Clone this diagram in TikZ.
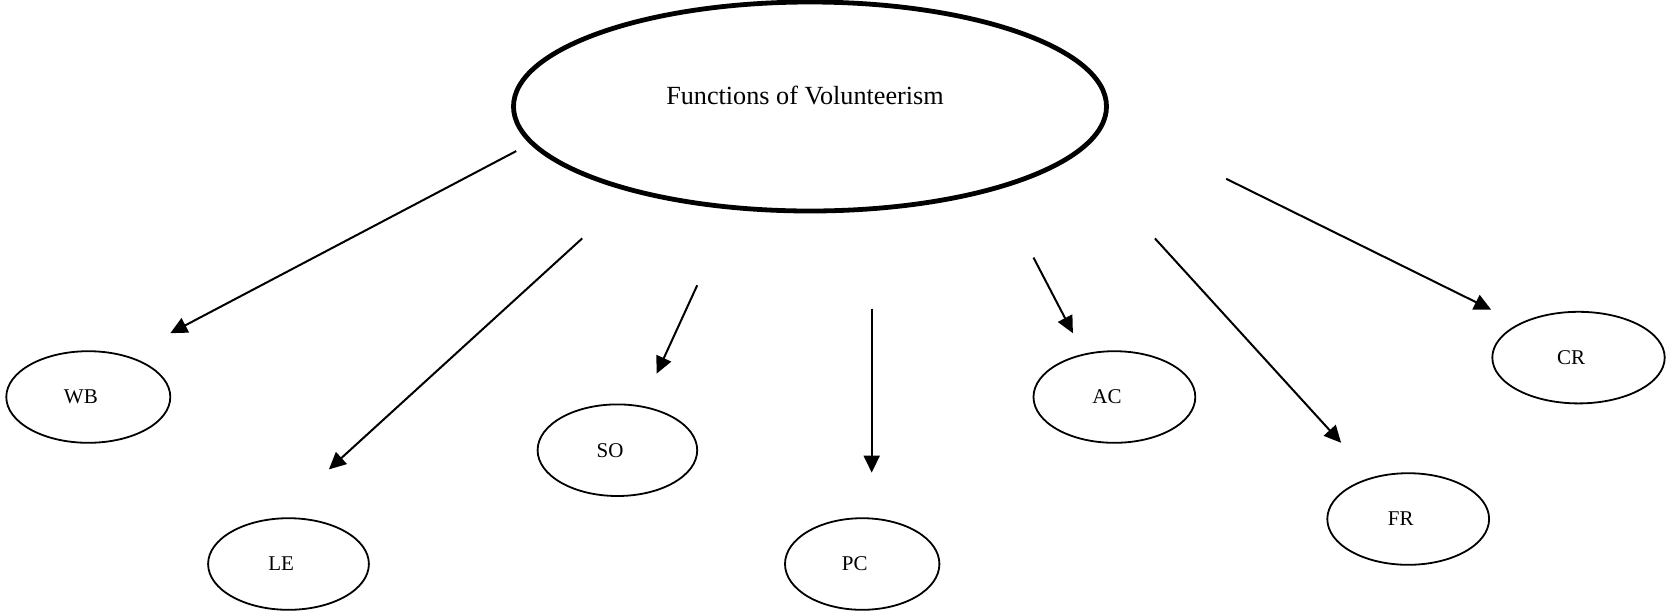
\documentclass[tikz,border=0pt]{standalone}
\usepackage{fontspec}
\setmainfont{Liberation Serif}
\usetikzlibrary{shapes.geometric,arrows.meta}

\begin{document}
\begin{tikzpicture}[x=0.5pt, y=-0.5pt,
  bigell/.style={ellipse, draw, line width=2.4pt, inner sep=0pt, minimum width=296.5pt, minimum height=104.5pt},
  fnell/.style={ellipse, draw, line width=0.9pt, inner sep=0pt, minimum height=45.8pt},
  fnlbl/.style={xshift=-3.7pt, font=\fontsize{10.5}{12}\selectfont},
  arr/.style={line width=1pt, -{Triangle[length=8.5pt,width=8pt]}}]
\useasboundingbox (0,0) rectangle (1669,612);

% centre
\node[bigell] (fv) at (810,106.5) {};
\node[font=\fontsize{13.1}{15}\selectfont] (fvtext) at (805,95) {Functions of Volunteerism};

% functions
\node[fnell, minimum width=82pt, label={[fnlbl]center:WB}] (wb) at (88.3,397) {};
\node[fnell, minimum width=80.4pt, label={[fnlbl]center:LE}] (le) at (288.5,564) {};
\node[fnell, minimum width=79.8pt, label={[fnlbl]center:SO}] (so) at (617.4,450.2) {};
\node[fnell, minimum width=77.2pt, label={[fnlbl]center:PC}] (pc) at (862.2,564) {};
\node[fnell, minimum width=80.9pt, label={[fnlbl]center:AC}] (ac) at (1114.4,397) {};
\node[fnell, minimum width=80.9pt, label={[fnlbl]center:FR}] (fr) at (1408.2,519) {};
\node[fnell, minimum width=86.2pt, label={[fnlbl]center:CR}] (cr) at (1578.5,357.6) {};

% arrow ends
\coordinate (wbs) at (516.2,151.1);   \coordinate (wbe) at (170.3,333.2);
\coordinate (les) at (582.2,238.4);   \coordinate (lee) at (328.9,469.4);
\coordinate (sos) at (697.2,285.3);   \coordinate (soe) at (656.7,373.6);
\coordinate (pcs) at (871.7,308.7);   \coordinate (pce) at (871.7,472.6);
\coordinate (acs) at (1033.5,257.6);  \coordinate (ace) at (1072.9,333.2);
\coordinate (frs) at (1154.9,238.4);  \coordinate (fre) at (1341.1,442.8);
\coordinate (crs) at (1226.2,178.8);  \coordinate (cre) at (1491.2,309.7);

\foreach \f in {wb,le,so,pc,ac,fr,cr}
  \draw[arr] (\f s) -- (\f e);
%\draw[arr] (fv) -- (wb);

\end{tikzpicture}
\end{document}
